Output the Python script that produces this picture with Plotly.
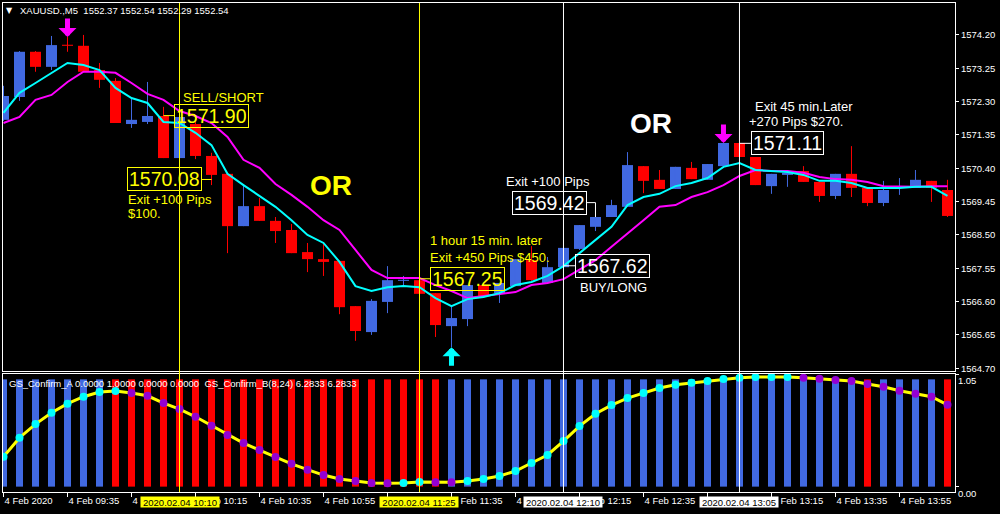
import plotly.graph_objects as go

# ---------------- data ----------------
opens = [1571.78, 1572.43, 1573.72, 1573.29, 1573.91, 1573.89, 1573.20, 1572.89, 1571.66, 1571.72,
         1571.89, 1570.69, 1571.66, 1570.75, 1570.24, 1568.75, 1569.32, 1568.90, 1568.64, 1568.01,
         1567.81, 1567.76, 1566.47, 1565.73, 1566.59, 1567.19, 1567.21, 1566.84, 1565.90, 1566.10,
         1567.07, 1566.84, 1567.04, 1567.78, 1567.13, 1567.58, 1568.10, 1568.73, 1569.01, 1569.30,
         1570.46, 1570.07, 1569.81, 1570.41, 1570.07, 1570.46, 1571.12, 1570.72, 1569.89, 1570.21,
         1570.32, 1570.01, 1569.61, 1570.24, 1569.84, 1569.41, 1569.84, 1569.84, 1570.04, 1569.78]
highs = [1572.75, 1573.74, 1573.74, 1574.17, 1574.14, 1574.20, 1573.40, 1572.97, 1572.38, 1572.86,
         1572.15, 1571.92, 1571.72, 1570.84, 1570.24, 1569.92, 1569.55, 1569.01, 1568.81, 1568.27,
         1568.24, 1567.76, 1566.47, 1566.67, 1567.61, 1567.33, 1567.24, 1566.84, 1566.50, 1567.07,
         1567.07, 1567.13, 1567.81, 1568.18, 1567.87, 1568.13, 1568.78, 1569.01, 1569.50, 1570.86,
         1570.46, 1570.35, 1570.44, 1570.58, 1570.52, 1571.12, 1571.12, 1570.72, 1570.24, 1570.27,
         1570.46, 1570.01, 1570.24, 1571.03, 1569.84, 1570.04, 1570.12, 1570.35, 1570.04, 1570.07]
lows = [1571.75, 1572.32, 1573.15, 1573.20, 1573.72, 1573.15, 1572.69, 1571.69, 1571.55, 1571.66,
        1570.69, 1570.69, 1570.66, 1569.92, 1567.98, 1568.75, 1568.90, 1568.27, 1567.98, 1567.44,
        1567.33, 1566.24, 1565.48, 1565.65, 1566.27, 1567.07, 1566.82, 1565.59, 1565.30, 1565.90,
        1566.76, 1566.56, 1567.04, 1567.19, 1567.10, 1567.58, 1568.07, 1568.61, 1569.01, 1569.30,
        1569.69, 1569.81, 1569.81, 1570.09, 1570.07, 1570.46, 1570.72, 1569.92, 1569.67, 1569.87,
        1570.01, 1569.44, 1569.52, 1569.58, 1569.32, 1569.32, 1569.64, 1569.84, 1569.44, 1569.01]
closes = [1572.46, 1573.72, 1573.29, 1573.91, 1573.89, 1573.15, 1572.92, 1571.69, 1571.78, 1571.89,
          1570.69, 1571.86, 1570.75, 1570.21, 1568.75, 1569.32, 1568.90, 1568.61, 1567.98, 1567.81,
          1567.73, 1566.44, 1565.76, 1566.62, 1567.21, 1567.21, 1566.82, 1565.93, 1566.13, 1567.07,
          1566.76, 1567.13, 1567.81, 1567.21, 1567.58, 1568.13, 1568.78, 1569.01, 1569.35, 1570.49,
          1570.04, 1569.81, 1570.44, 1570.09, 1570.52, 1571.12, 1570.72, 1569.92, 1570.24, 1570.27,
          1570.01, 1569.61, 1570.24, 1569.84, 1569.41, 1569.78, 1569.87, 1570.07, 1569.84, 1569.04]

ma_fast = [1571.98, 1572.55, 1572.83, 1573.12, 1573.40, 1573.34, 1573.20, 1572.69, 1572.40, 1572.26,
           1571.72, 1571.69, 1571.41, 1571.06, 1570.24, 1569.92, 1569.61, 1569.30, 1568.92, 1568.50,
           1568.27, 1567.73, 1567.04, 1566.90, 1567.01, 1567.04, 1567.01, 1566.70, 1566.47, 1566.67,
           1566.73, 1566.84, 1567.07, 1567.16, 1567.33, 1567.61, 1567.98, 1568.35, 1568.73, 1569.35,
           1569.58, 1569.67, 1569.89, 1569.98, 1570.12, 1570.44, 1570.55, 1570.35, 1570.32, 1570.29,
           1570.21, 1570.04, 1570.04, 1569.98, 1569.84, 1569.84, 1569.84, 1569.87, 1569.87, 1569.61]
ma_slow = [1571.69, 1571.86, 1572.35, 1572.49, 1572.86, 1573.15, 1573.15, 1573.12, 1572.83, 1572.52,
           1572.35, 1572.03, 1571.89, 1571.69, 1571.29, 1570.64, 1570.41, 1569.95, 1569.64, 1569.30,
           1568.92, 1568.64, 1568.07, 1567.50, 1567.27, 1567.27, 1567.27, 1567.07, 1566.90, 1566.70,
           1566.76, 1566.82, 1566.87, 1567.07, 1567.13, 1567.24, 1567.50, 1567.78, 1568.16, 1568.55,
           1568.92, 1569.30, 1569.35, 1569.58, 1569.72, 1569.92, 1570.18, 1570.35, 1570.32, 1570.32,
           1570.27, 1570.15, 1570.09, 1570.07, 1570.01, 1569.89, 1569.87, 1569.87, 1569.89, 1569.89]

# GS_Confirm_A histogram: 1 = buy (blue), -1 = sell (red)
conf_a = [1, 1, 1, 1, 1, 1, 1, -1, -1, -1,
          -1, -1, -1, -1, -1, -1, -1, -1, -1, -1,
          -1, -1, -1, -1, -1, -1, -1, -1, 1, 1,
          1, 1, 1, 1, 1, 1, 1, 1, 1, 1,
          1, 1, 1, 1, 1, 1, 1, 1, 1, 1,
          1, 1, 1, 1, -1, 1, 1, 1, 1, -1]
# GS_Confirm_B line and its dot state (1 rising = cyan, -1 falling = purple)
conf_b = [0.279, 0.456, 0.583, 0.689, 0.773, 0.838, 0.882, 0.891, 0.872, 0.847,
          0.779, 0.723, 0.651, 0.568, 0.481, 0.406, 0.341, 0.276, 0.213, 0.158,
          0.108, 0.071, 0.052, 0.034, 0.032, 0.034, 0.043, 0.042, 0.041, 0.052,
          0.071, 0.099, 0.145, 0.220, 0.295, 0.425, 0.565, 0.679, 0.760, 0.826,
          0.872, 0.919, 0.950, 0.968, 0.984, 1.003, 1.015, 1.021, 1.023, 1.022,
          1.015, 1.006, 0.993, 0.984, 0.956, 0.931, 0.894, 0.866, 0.838, 0.763]
conf_b_dir = [1, 1, 1, 1, 1, 1, 1, 1, -1, -1,
              -1, -1, -1, -1, -1, -1, -1, -1, -1, -1,
              -1, -1, -1, -1, -1, 1, 1, -1, -1, 1,
              1, 1, 1, 1, 1, 1, 1, 1, 1, 1,
              1, 1, 1, 1, 1, 1, 1, 1, 1, 1,
              -1, -1, -1, -1, -1, -1, -1, -1, -1, -1]

tick_bars = [0, 4, 8, 12, 16, 20, 24, 28, 32, 36, 40, 44, 48, 52, 56]
tick_labels = ["4 Feb 2020", "4 Feb 09:35", "4 Feb 09:55", "4 Feb 10:15", "4 Feb 10:35",
               "4 Feb 10:55", "4 Feb 11:15", "4 Feb 11:35", "4 Feb 11:55", "4 Feb 12:15",
               "4 Feb 12:35", "4 Feb 12:55", "4 Feb 13:15", "4 Feb 13:35", "4 Feb 13:55"]
price_ticks = [1564.70, 1565.65, 1566.60, 1567.55, 1568.50, 1569.45,
               1570.40, 1571.35, 1572.30, 1573.25, 1574.20]

# vertical time markers: bar index, label, colour
vline_bars = [11, 26, 35, 46]
vline_labels = ["2020.02.04 10:10", "2020.02.04 11:25", "2020.02.04 12:10", "2020.02.04 13:05"]
vline_colors = ["#FFFF00", "#FFFF00", "#FFFFFF", "#FFFFFF"]

# price boxes: text, price, linked bar, colour
box_texts = ["1571.90", "1570.08", "1567.25", "1569.42", "1567.62", "1571.11"]
box_prices = [1571.90, 1570.08, 1567.25, 1569.42, 1567.62, 1571.11]
box_bars = [10, 13, 26, 37, 35, 46]
box_colors = ["#FFFF00", "#FFFF00", "#FFFF00", "#FFFFFF", "#FFFFFF", "#FFFFFF"]

# signal arrows: bar, direction
arrow_bars = [4, 45, 28]
arrow_dirs = [-1, -1, 1]

# ---------------- styling / layout constants ----------------
FONT = "Liberation Sans, Arial, sans-serif"
BLUE = "#4169E1"
RED = "#FF0000"
CYAN = "#00FFFF"
MAGENTA = "#FF00FF"
PURPLE = "#9400D3"
XR = [-0.03125, 59.47]
BAR_PX = 16.0

# box placement (left edge in bar units, connector side)
box_left = [10.656, 7.719, 26.656, 31.781, 35.719, 46.719]
box_side = ["left", "right", "left", "right", "left", "left"]
BOX_W = 74 / BAR_PX

fig = go.Figure()
n = len(opens)
xs = list(range(n))

# candles: wicks + bodies
for color, is_up in ((BLUE, True), (RED, False)):
    idx = [i for i in xs if (closes[i] >= opens[i]) == is_up]
    wx, wy = [], []
    for i in idx:
        wx += [i, i, None]
        wy += [lows[i], highs[i], None]
    fig.add_trace(go.Scatter(x=wx, y=wy, mode="lines", line=dict(color=color, width=1),
                             xaxis="x", yaxis="y", hoverinfo="skip"))
    fig.add_trace(go.Bar(x=idx,
                         y=[max(abs(closes[i] - opens[i]), 0.03) for i in idx],
                         base=[min(opens[i], closes[i]) for i in idx],
                         width=11 / BAR_PX, marker=dict(color=color, line=dict(width=0)),
                         xaxis="x", yaxis="y"))

# moving averages
fig.add_trace(go.Scatter(x=xs, y=ma_slow, mode="lines", line=dict(color=MAGENTA, width=2),
                         xaxis="x", yaxis="y"))
fig.add_trace(go.Scatter(x=xs, y=ma_fast, mode="lines", line=dict(color=CYAN, width=2),
                         xaxis="x", yaxis="y"))

# connectors from boxes to candles
annotations = []
for txt, p, b, col, left, side in zip(box_texts, box_prices, box_bars, box_colors, box_left, box_side):
    if side == "left":
        cx, cy = [b, left], [p, p]
    else:
        right = left + BOX_W
        cx, cy = [right, b], [p, p]
        body_top = max(opens[b], closes[b])
        if body_top < p - 0.2:
            cx.append(b)
            cy.append(body_top)
    fig.add_trace(go.Scatter(x=cx, y=cy, mode="lines", line=dict(color=col, width=1),
                             xaxis="x", yaxis="y"))
    annotations.append(dict(x=left, y=p, xref="x", yref="y", xanchor="left", yanchor="middle",
                            text=txt, showarrow=False, height=20, borderpad=1,
                            font=dict(family=FONT, size=19.5, color=col),
                            bordercolor=col, borderwidth=1))

# lower panel: histogram + confirm line with dots
fig.add_trace(go.Bar(x=xs, y=[abs(v) for v in conf_a], width=7 / BAR_PX,
                     marker=dict(color=[BLUE if v > 0 else RED for v in conf_a], line=dict(width=0)),
                     xaxis="x2", yaxis="y2"))
fig.add_trace(go.Scatter(x=xs, y=conf_b, mode="lines", line=dict(color="#FFFF00", width=3),
                         xaxis="x2", yaxis="y2"))
fig.add_trace(go.Scatter(x=xs, y=conf_b, mode="markers",
                         marker=dict(size=8, color=[CYAN if d > 0 else PURPLE for d in conf_b_dir],
                                     line=dict(width=0)),
                         xaxis="x2", yaxis="y2"))

# vertical lines + highlighted time labels
shapes = []
for b, lab, col in zip(vline_bars, vline_labels, vline_colors):
    shapes.append(dict(type="line", xref="x", yref="paper", x0=b, x1=b, y0=0, y1=1,
                       line=dict(color=col, width=1), layer="above"))
    annotations.append(dict(x=b, y=-0.0204, xref="x", yref="paper", xanchor="center", yanchor="middle",
                            text=lab, showarrow=False, bgcolor=col, width=78, height=10, borderpad=0,
                            font=dict(family=FONT, size=9.5, color="black")))

# arrows
for b, d in zip(arrow_bars, arrow_dirs):
    col = MAGENTA if d < 0 else CYAN
    yv = highs[b] if d < 0 else lows[b]
    annotations.append(dict(x=b, y=yv, xref="x", yref="y", text="", showarrow=True,
                            ax=0, ay=-20 if d < 0 else 20, arrowcolor=col, arrowwidth=5,
                            arrowhead=1, arrowsize=0.6, standoff=0))

# free text labels
texts = [
    ("SELL/SHORT", 11.156, 1572.43, "#FFFF00"),
    ("Exit +100 Pips", 7.719, 1569.52, "#FFFF00"),
    ("$100.", 7.719, 1569.10, "#FFFF00"),
    ("1 hour 15 min. later", 26.594, 1568.33, "#FFFF00"),
    ("Exit +450 Pips $450.", 26.594, 1567.86, "#FFFF00"),
    ("Exit +100 Pips", 31.344, 1570.02, "#FFFFFF"),
    ("BUY/LONG", 35.97, 1567.01, "#FFFFFF"),
    ("Exit 45 min.Later", 46.906, 1572.15, "#FFFFFF"),
    ("+270 Pips $270.", 46.531, 1571.73, "#FFFFFF"),
]
for t, x, y, col in texts:
    annotations.append(dict(x=x, y=y, xref="x", yref="y", xanchor="left", yanchor="middle",
                            text=t, showarrow=False, borderpad=0,
                            font=dict(family=FONT, size=13, color=col)))
for x, y, col in ((20.47, 1569.92, "#FFFF00"), (40.47, 1571.68, "#FFFFFF")):
    annotations.append(dict(x=x, y=y, xref="x", yref="y", xanchor="center", yanchor="middle",
                            text="<b>OR</b>", showarrow=False,
                            font=dict(family=FONT, size=28, color=col)))

# headers
annotations.append(dict(x=0.0068, y=0.9847, xref="paper", yref="paper", xanchor="center",
                        yanchor="middle", text="▼", showarrow=False,
                        font=dict(family="DejaVu Sans", size=8, color="white")))
annotations.append(dict(x=0.0158, y=0.9847, xref="paper", yref="paper", xanchor="left",
                        yanchor="middle", showarrow=False,
                        text="XAUUSD.,M5\u00a0 1552.37 1552.54 1552.29 1552.54",
                        font=dict(family=FONT, size=9.5, color="white")))
annotations.append(dict(x=0.0042, y=0.2229, xref="paper", yref="paper", xanchor="left",
                        yanchor="middle", showarrow=False,
                        text="GS_Confirm_A 0.0000 1.0000 0.0000 0.0000\u00a0 GS_Confirm_B(8,24) 6.2833 6.2833",
                        font=dict(family=FONT, size=9.5, color="white")))

axis_common = dict(showline=True, mirror=True, linecolor="white", linewidth=1,
                   showgrid=False, zeroline=False, automargin=False)

fig.update_layout(
    width=1000, height=514,
    margin=dict(l=3, r=45, t=3, b=22, pad=0),
    paper_bgcolor="black", plot_bgcolor="black",
    showlegend=False, barmode="overlay", hovermode=False,
    font=dict(family=FONT, size=9.5, color="white"),
    xaxis=dict(domain=[0, 1], anchor="y", range=XR, showticklabels=False, ticks="", **axis_common),
    yaxis=dict(domain=[0.2474, 1], anchor="x", side="right", range=[1564.62, 1575.11],
               tickvals=price_ticks, tickformat=".2f", ticks="outside", ticklen=3,
               tickcolor="white", **axis_common),
    xaxis2=dict(domain=[0, 1], anchor="y2", range=XR, tickvals=tick_bars, ticktext=tick_labels,
                ticklabelposition="outside right", ticks="outside", ticklen=4,
                tickcolor="white", **axis_common),
    yaxis2=dict(domain=[0, 0.2413], anchor="x2", side="right", range=[-0.05, 1.05],
                tickvals=[1.05, 0.0], tickformat=".2f", ticklabelposition="outside bottom",
                ticks="outside", ticklen=3, tickcolor="white", **axis_common),
    shapes=shapes,
    annotations=annotations,
)

fig.write_html("out.html", config={"staticPlot": True},
               post_script="document.body.style.margin='0';document.body.style.background='black';")
